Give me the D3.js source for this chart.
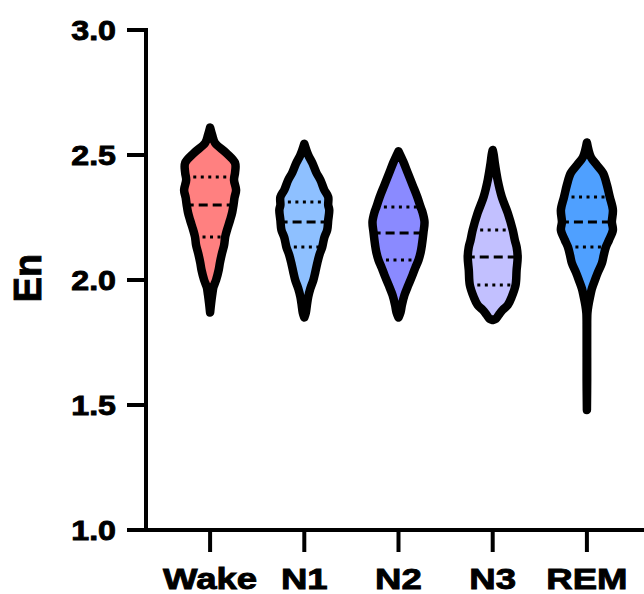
<!DOCTYPE html>
<html><head><meta charset="utf-8">
<script src="https://cdn.jsdelivr.net/npm/d3@7/dist/d3.min.js"></script>
<style>html,body{margin:0;padding:0;background:#fff;}svg{display:block;}</style>
</head><body>
<svg id="chart" width="644" height="594"></svg>
<script>
// ---- data ----
const categories = ["Wake", "N1", "N2", "N3", "REM"];
const colors = ["#FF8080", "#8EC0FF", "#8A8AFF", "#C2C0FF", "#4FA0FF"];
const yTicks = [1.0, 1.5, 2.0, 2.5, 3.0];
const yLabel = "En";
// density profiles: [En value, relative density (0-1)]
const wakeProfile = [[2.61,0],[2.58,.08],[2.548,.19],[2.508,.62],[2.468,.96],[2.43,.96],[2.40,.92],[2.36,1.0],[2.33,.94],[2.30,.90],[2.27,.85],[2.24,.77],[2.20,.65],[2.172,.58],[2.14,.54],[2.108,.46],[2.07,.38],[2.04,.33],[2.0,.23],[1.972,.13],[1.94,.08],[1.908,.04],[1.87,0]];
const n1Profile = [[2.545,0],[2.50,.15],[2.468,.31],[2.43,.46],[2.40,.62],[2.36,.77],[2.332,.92],[2.30,.92],[2.28,.96],[2.24,.92],[2.20,.88],[2.17,.77],[2.132,.69],[2.10,.58],[2.068,.50],[2.03,.42],[2.0,.35],[1.965,.23],[1.932,.15],[1.90,.10],[1.87,.06],[1.85,0]];
const n2Profile = [[2.515,0],[2.472,.19],[2.43,.35],[2.38,.54],[2.33,.73],[2.292,.85],[2.272,.92],[2.232,1.0],[2.19,.96],[2.14,.90],[2.11,.85],[2.08,.77],[2.05,.65],[2.02,.54],[1.98,.38],[1.94,.23],[1.90,.13],[1.872,.08],[1.85,0]];
const n3Profile = [[2.52,0],[2.50,.04],[2.468,.08],[2.40,.19],[2.332,.35],[2.268,.58],[2.20,.77],[2.16,.85],[2.132,.92],[2.092,.96],[2.04,.92],[1.98,.88],[1.932,.73],[1.90,.58],[1.88,.38],[1.86,.23],[1.845,.12],[1.84,0]];
const remProfile = [[2.55,0],[2.492,.15],[2.46,.38],[2.428,.62],[2.38,.77],[2.332,.88],[2.28,1.0],[2.232,.96],[2.20,1.0],[2.16,.85],[2.132,.73],[2.10,.65],[2.068,.58],[2.03,.42],[2.0,.31],[1.965,.19],[1.932,.12],[1.90,.06],[1.868,.02],[1.80,.01],[1.6,.01],[1.48,0]];
const profiles = [wakeProfile, n1Profile, n2Profile, n3Profile, remProfile];
// quartiles [Q1, median, Q3]
const quartiles = [[2.172,2.30,2.412],[2.132,2.232,2.312],[2.08,2.188,2.292],[1.98,2.092,2.20],[2.132,2.232,2.332]];

// ---- layout ----
const svg = d3.select("#chart");
const axisX = 146, axisY = 530, yTop = 30;
const y = d3.scaleLinear().domain([1.0, 3.0]).range([axisY, yTop]);
const x = d3.scaleBand().domain(categories).range([163, 634]);
const w = d3.scaleLinear().domain([0, 1]).range([0, 26]);
const font = "'Liberation Sans', Arial, Helvetica, sans-serif";

function halfAt(profile, v) {
  for (let i = 0; i < profile.length - 1; i++) {
    const a = profile[i], b = profile[i+1];
    if (v <= a[0] && v >= b[0]) {
      const t = (a[0] - v) / (a[0] - b[0]);
      return a[1] + t * (b[1] - a[1]);
    }
  }
  return 0;
}

categories.forEach((c, i) => {
  const cx = x(c) + x.bandwidth() / 2;
  const prof = profiles[i];
  const area = d3.area()
    .y(d => y(d[0]))
    .x0(d => cx - w(d[1]))
    .x1(d => cx + w(d[1]))
    .curve(d3.curveCatmullRom);
  const g = svg.append("g");
  g.append("path").attr("d", area(prof)).attr("fill", colors[i]).attr("stroke", "none");
  quartiles[i].forEach((q, k) => {
    const hw = w(halfAt(prof, q));
    g.append("line")
      .attr("x1", cx - hw).attr("x2", cx + hw)
      .attr("y1", y(q)).attr("y2", y(q))
      .attr("stroke", "#000")
      .attr("stroke-width", k === 1 ? 3.2 : 3)
      .attr("stroke-dasharray", k === 1 ? "9,5" : "3,4.5")
      .attr("stroke-dashoffset", k === 1 ? 2 : 0);
  });
  g.append("path").attr("d", area(prof)).attr("fill", "none")
    .attr("stroke", "#000").attr("stroke-width", 8.5)
    .attr("stroke-linejoin", "round");
});

// ---- axes ----
const ax = svg.append("g");
ax.append("line").attr("x1", axisX).attr("x2", axisX).attr("y1", yTop - 2).attr("y2", axisY + 2)
  .attr("stroke", "#000").attr("stroke-width", 4);
ax.append("line").attr("x1", axisX - 2).attr("x2", 644).attr("y1", axisY).attr("y2", axisY)
  .attr("stroke", "#000").attr("stroke-width", 4);
yTicks.forEach(t => {
  ax.append("line").attr("x1", 127).attr("x2", axisX).attr("y1", y(t)).attr("y2", y(t))
    .attr("stroke", "#000").attr("stroke-width", 4);
  ax.append("text").attr("transform", `translate(116,${y(t) + 9.5}) scale(1.17,1)`)
    .attr("text-anchor", "end").attr("font-family", font).attr("font-weight", "bold")
    .attr("font-size", 27.5).attr("fill", "#000").attr("stroke", "#000").attr("stroke-width", 0.9)
    .text(t.toFixed(1));
});
categories.forEach(c => {
  const cx = x(c) + x.bandwidth() / 2;
  ax.append("line").attr("x1", cx).attr("x2", cx).attr("y1", axisY).attr("y2", 552)
    .attr("stroke", "#000").attr("stroke-width", 4);
  ax.append("text").attr("transform", `translate(${cx},589) scale(1.22,1)`)
    .attr("text-anchor", "middle").attr("font-family", font).attr("font-weight", "bold")
    .attr("font-size", 30).attr("fill", "#000").attr("stroke", "#000").attr("stroke-width", 0.9)
    .text(c);
});
svg.append("text").attr("transform", "translate(41,278) rotate(-90)")
  .attr("text-anchor", "middle").attr("font-family", font).attr("font-weight", "bold")
  .attr("font-size", 38).attr("fill", "#000").attr("stroke", "#000").attr("stroke-width", 0.9)
  .text(yLabel);
</script>
</body></html>
